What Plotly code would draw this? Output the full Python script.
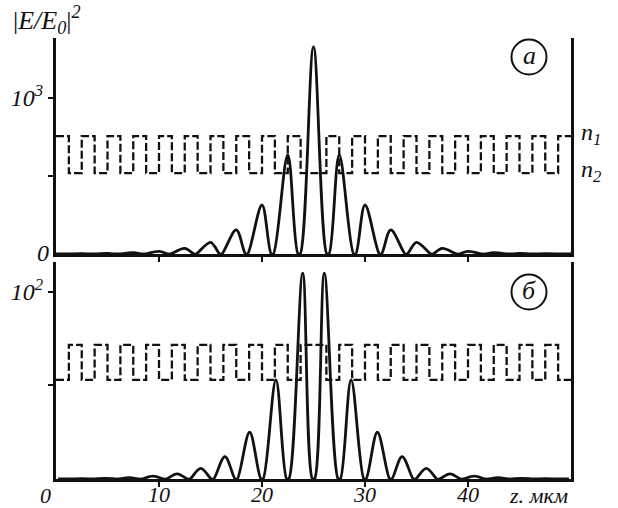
import plotly.graph_objects as go

# ---------------- data ----------------
# panel a: |E/E0|^2 maxima and zeros (z in um)
a_peak_z = [0, 2.5, 5, 7.5, 10, 12.5, 15, 17.5, 20, 22.5, 25, 27.5, 30, 32.5, 35, 37.5, 40, 42.5, 45, 47.5, 50]
a_peak_v = [1, 2, 4, 8, 17, 36, 75, 154, 314, 635, 1327, 635, 314, 154, 75, 36, 17, 8, 4, 2, 1]
a_zero_z = [1.0, 3.5, 6.0, 8.5, 11.0, 13.5, 16.0, 18.5, 21.0, 23.6, 26.4, 29.0, 31.5, 34.0, 36.5, 39.0, 41.5, 44.0, 46.5, 49.0]

# panel b: |E/E0|^2 maxima and zeros
b_peak_z = [0.2, 2.5, 4.8, 7.1, 9.4, 11.75, 14.05, 16.4, 18.8, 21.35, 23.95, 26.05, 28.65, 31.2, 33.6, 35.95, 38.25, 40.6, 42.9, 45.2, 47.5, 49.8]
b_peak_v = [0.1, 0.2, 0.35, 0.7, 1.5, 2.7, 5.7, 12, 25, 53, 110, 110, 53, 25, 12, 5.7, 2.7, 1.5, 0.7, 0.35, 0.2, 0.1]
b_zero_z = [1.4, 3.6, 5.9, 8.2, 10.6, 12.9, 15.2, 17.5, 20.0, 22.5, 25.0, 27.5, 30.0, 32.5, 34.8, 37.1, 39.4, 41.8, 44.1, 46.4, 48.6]

# refractive-index profile: layer edges (um) and layer index (1 -> n1, 2 -> n2)
layer_edges = [0, 1.25, 2.5, 3.75, 5, 6.25, 7.5, 8.75, 10, 11.25, 12.5, 13.75, 15, 16.25, 17.5,
               18.75, 20, 21.25, 22.5, 23.75, 26.25, 27.5, 28.75, 30, 31.25, 32.5, 33.75, 35,
               36.25, 37.5, 38.75, 40, 41.25, 42.5, 43.75, 45, 46.25, 47.5, 48.75, 50]
a_layers = [1, 2, 1, 2, 1, 2, 1, 2, 1, 2, 1, 2, 1, 2, 1, 2, 1, 2, 1,
            2,
            1, 2, 1, 2, 1, 2, 1, 2, 1, 2, 1, 2, 1, 2, 1, 2, 1, 2, 1]
b_layers = [2, 1, 2, 1, 2, 1, 2, 1, 2, 1, 2, 1, 2, 1, 2, 1, 2, 1, 2,
            1,
            2, 1, 2, 1, 2, 1, 2, 1, 2, 1, 2, 1, 2, 1, 2, 1, 2, 1, 2]
# drawing levels of n1 / n2 in each panel's intensity units
a_n_level = {1: 756, 2: 519}
b_n_level = {1: 71.7, 2: 53}

x_ticks = [10, 20, 30, 40]
x_tick_text = ["10", "20", "30", "40"]
a_yticks = [500, 1000]
a_ytick_text = ["", "10<sup>3</sup>"]
b_yticks = [50, 100]
b_ytick_text = ["", "10<sup>2</sup>"]

# ---------------- layout constants ----------------
W, H = 618, 508
L, R, T, B = 56, 47, 38, 29
PW, PH = W - L - R, H - T - B


def px(x):
    return (x - L) / PW


def py(y):
    return (H - B - y) / PH


FONT = "Liberation Serif, Times New Roman, Times, DejaVu Serif, serif"
INK = "#111111"


def curve(pz, pv, zz, w=0.1):
    pts = list(zip(pz, pv)) + [(z - w, 0) for z in zz] + [(z + w, 0) for z in zz]
    pts = sorted(p for p in pts if 0 <= p[0] <= 50)
    return [p[0] for p in pts], [p[1] for p in pts]


def steps(edges, layers, lev):
    ys = [lev[k] for k in layers] + [lev[layers[-1]]]
    return edges, ys


fig = go.Figure()

ax, ay = curve(a_peak_z, a_peak_v, a_zero_z)
bx, by = curve(b_peak_z, b_peak_v, b_zero_z)
sax, say = steps(layer_edges, a_layers, a_n_level)
sbx, sby = steps(layer_edges, b_layers, b_n_level)

dash_line = dict(color=INK, width=2.3, dash="8px,3px", shape="hv")
fig.add_trace(go.Scatter(x=sax, y=say, mode="lines", line=dash_line, xaxis="x", yaxis="y", hoverinfo="skip"))
fig.add_trace(go.Scatter(x=sbx, y=sby, mode="lines", line=dash_line, xaxis="x2", yaxis="y2", hoverinfo="skip"))
fig.add_trace(go.Scatter(x=ax, y=ay, mode="lines", line=dict(color=INK, width=2.8, shape="spline", smoothing=1),
                         xaxis="x", yaxis="y"))
fig.add_trace(go.Scatter(x=bx, y=by, mode="lines", line=dict(color=INK, width=2.8, shape="spline", smoothing=1),
                         xaxis="x2", yaxis="y2"))

top_dom = [py(254), py(38)]
bot_dom = [py(479), py(262)]
tickfont = dict(family=FONT, size=24, color=INK, style="italic")
xtickfont = dict(family=FONT, size=22, color=INK, style="italic")

common_x = dict(range=[0, 50], showgrid=False, zeroline=False, showline=True, linewidth=3, linecolor=INK,
                ticks="outside", ticklen=5, tickwidth=2, tickcolor=INK, tickvals=x_ticks, ticktext=x_tick_text,
                tickfont=xtickfont, automargin=False)
common_y = dict(showgrid=False, zeroline=False, showline=True, linewidth=3, linecolor=INK, mirror=True,
                ticks="outside", ticklen=5, tickwidth=2, tickcolor=INK, tickfont=tickfont, automargin=False)

fig.update_layout(
    width=W, height=H, margin=dict(l=L, r=R, t=T, b=B, pad=0, autoexpand=False),
    paper_bgcolor="white", plot_bgcolor="white", showlegend=False,
    font=dict(family=FONT, color=INK),
    xaxis=dict(common_x, anchor="y", domain=[0, 1], showticklabels=False),
    yaxis=dict(common_y, anchor="x", domain=top_dom, range=[0, 1384.6], tickvals=a_yticks, ticktext=a_ytick_text),
    xaxis2=dict(common_x, anchor="y2", domain=[0, 1], showticklabels=True, ticklabelstandoff=-11),
    yaxis2=dict(common_y, anchor="x2", domain=bot_dom, range=[0, 116], tickvals=b_yticks, ticktext=b_ytick_text),
)

ann_font = dict(family=FONT, size=24, color=INK)


def note(text, x, y, xanchor="center", size=24):
    fig.add_annotation(text=text, x=px(x), y=py(y), xref="paper", yref="paper", showarrow=False,
                       xanchor=xanchor, yanchor="middle", font=dict(ann_font, size=size))


note("|<i>E/E<sub>0</sub></i>|<sup><i>2</i></sup>", 11, 20, xanchor="left", size=26)
note("<i>0</i>", 43, 253)
note("<i>0</i>", 45, 495, size=22)
note("<i>z. мкм</i>", 538, 495, size=22)
note("<i>n<sub>1</sub></i>", 579, 134, xanchor="left")
note("<i>n<sub>2</sub></i>", 579, 171, xanchor="left")

circles = [(529, 57, "а"), (529, 292, "б")]
for cx, cy, lab in circles:
    fig.add_shape(type="circle", xref="paper", yref="paper",
                  x0=px(cx - 17.5), x1=px(cx + 17.5), y0=py(cy + 17.5), y1=py(cy - 17.5),
                  line=dict(color=INK, width=2))
    note("<i>" + lab + "</i>", cx, cy - 2, size=26)

fig.write_html("out.html")
